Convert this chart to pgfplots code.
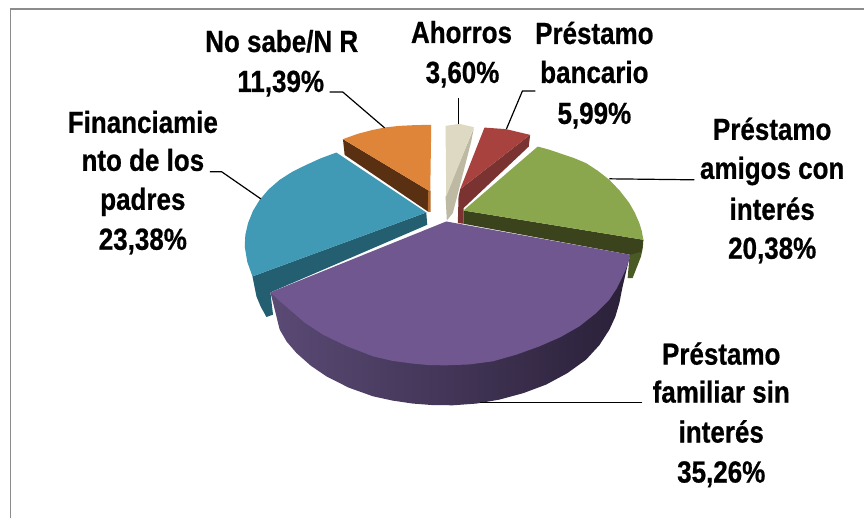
\documentclass[border=0pt]{standalone}
\usepackage{pgfplots}
\pgfplotsset{compat=1.18}
\usepackage{graphicx}
\usepackage{fontspec}
\setmainfont{Liberation Sans}
\newfontfamily\lblfont[BoldFeatures={FakeBold=0.7}]{Liberation Sans}
\definecolor{cpur}{HTML}{70578F}
\definecolor{cpurL}{HTML}{5A4A75}
\definecolor{cpurM}{HTML}{3F3052}
\definecolor{cpurR}{HTML}{2A2038}
\definecolor{cgre}{HTML}{8AA74E}
\definecolor{cgreD}{HTML}{3A431C}
\definecolor{cgreS}{HTML}{4A5A25}
\definecolor{cred}{HTML}{A8423F}
\definecolor{credD}{HTML}{7B3331}
\definecolor{cbei}{HTML}{DDD9C3}
\definecolor{cbeiD}{HTML}{BDB9A3}
\definecolor{cora}{HTML}{DF853A}
\definecolor{coraD}{HTML}{5A3012}
\definecolor{ctea}{HTML}{4099B5}
\definecolor{cteaD}{HTML}{235F70}
\definecolor{cfr}{HTML}{8C8C8C}
\newcommand{\lbl}[3]{\node[anchor=base,font=\fontsize{25}{25}\lblfont\bfseries,text=black,inner sep=0pt] at (axis cs:#1,#2) {\scalebox{1.04}[1.22]{#3}};}
\begin{document}
\begin{tikzpicture}
\begin{axis}[scale only axis,width=865pt,height=519pt,xmin=0,xmax=865,ymin=0,ymax=519,y dir=reverse,hide axis,clip=false]
\addplot[draw=none,fill=white] coordinates {(0,0)(865,0)(865,519)(0,519)} -- cycle;
% frame
\addplot[cfr,line width=1.8pt] coordinates {(10.5,519)(10.5,9)(865,9)};
% beige
\addplot[draw=none,fill=cbeiD] coordinates {(474.3,128.3)(471.7,141.7)(453.3,213.3)(447.3,220.7)(446,196.7)} -- cycle;
\addplot[draw=none,fill=cbei] coordinates {(446,126)(460,124)(474.3,127.3)(446.7,196.7)} -- cycle;
% red
\addplot[draw=none,fill=credD] coordinates {(460.7,189.3)(530.7,135)(529.3,146.7)(464,208.3)(464,224)(458.3,223.3)(459,197)} -- cycle;
\addplot[draw=none,fill=cred] coordinates {(460.7,189.3)(485,127.7)(506.7,129.3)(530.7,135)} -- cycle;
% orange
\addplot[draw=none,fill=coraD] coordinates {(343.3,139.3)(430.7,191.7)(428.3,211.7)(345,155)} -- cycle;
\addplot[draw=none,fill=cora!70!coraD] coordinates {(431,191)(431,212)(428.3,212)(428.6,191.7)} -- cycle;
\addplot[draw=none,fill=cora] coordinates {(343.3,139.3)(358,134)(373.3,130)(386,127.5)(400,126)(416,125.2)(431.7,125)(430.7,191.7)} -- cycle;
% green
\addplot[draw=none,fill=cgreS] coordinates {(644,240)(643.5,248)(641.7,256.7)(633.3,278.3)(628.3,278.3)(630.7,250)} -- cycle;
\addplot[draw=none,fill=cgreD] coordinates {(464,210.7)(644,240)(642,252)(630.7,255)(464,224)} -- cycle;
\addplot[draw=none,fill=cgre] coordinates {(464,210.7)(538.3,146.7)(549,149.6)(560,153.3)(574,158)(586.7,163.3)(598.5,171)(610,180)(620.5,191)(630,203.3)(635.5,213)(640,223.3)(642.5,231.5)(644,240)} -- cycle;
% teal
\addplot[draw=none,fill=cteaD] coordinates {(426.7,212.7)(252.7,276.7)(256.7,296.7)(261,307)(266.7,317.3)(273.3,315)(270.7,292.7)(427.7,225)} -- cycle;
\addplot[draw=none,fill=ctea] coordinates {(426.7,212.7)(336.7,152.7)(321,158.5)(306.7,165)(292.5,172)(280,180)(269,189.5)(260,200)(253.3,211)(248.3,223.3)(245.6,235)(245,246.7)(247.5,262)(252.7,276.7)} -- cycle;
% purple
\addplot[draw=none,left color=cpurL,middle color=cpurM,right color=cpurR] coordinates {(270.7,292.7)(276.7,316.7)(280,330)(287,342)(296.7,353.3)(311,366)(326.7,376.7)(349,388)(373.3,396.7)(393,401)(413.3,404)(433,405.5)(453.3,405.7)(477,404)(500,400)(524,393.5)(546.7,385)(568,373.5)(586.7,360)(600,345.5)(610,330)(616,317)(620,303.3)(623.3,286.7)(630.7,255)} -- cycle;
\addplot[draw=none,fill=cpur] coordinates {(446.7,221.7)(630.7,255)(628,266)(623.3,276.7)(617.5,288.5)(610,300)(596,314)(580,326.7)(561,337.5)(540,346.7)(517,355)(493.3,361.7)(470,364.8)(446.7,365.7)(430,365.5)(413.3,364)(393,361.3)(373.3,356.7)(347,346.5)(323.3,335)(305,323)(290,310)(279.5,301)(270.7,292.7)} -- cycle;
% leaders
\addplot[black,line width=1.2pt] coordinates {(330,92)(343,92)(385,128)};
\addplot[black,line width=1.2pt] coordinates {(210,172)(222,172)(261,199)};
\addplot[black,line width=1.2pt] coordinates {(459,98)(459,124)};
\addplot[black,line width=1.2pt] coordinates {(536,91)(523,91)(507,129)};
\addplot[black,line width=1.2pt] coordinates {(695,180)(610,179)};
\addplot[black,line width=1.2pt] coordinates {(643,403)(480,403)};
% labels
\lbl{282}{52}{No sabe/N R}
\lbl{281}{92}{11,39\%}
\lbl{143}{133}{Financiamie}
\lbl{143}{171}{nto de los}
\lbl{143}{210}{padres}
\lbl{143}{250}{23,38\%}
\lbl{462}{43}{Ahorros}
\lbl{463}{83}{3,60\%}
\lbl{595}{44}{Préstamo}
\lbl{595}{83}{bancario}
\lbl{595}{124}{5,99\%}
\lbl{773}{140}{Préstamo}
\lbl{773}{179}{amigos con}
\lbl{773}{220}{interés}
\lbl{773}{259}{20,38\%}
\lbl{722}{365}{Préstamo}
\lbl{722}{403}{familiar sin}
\lbl{722}{443}{interés}
\lbl{722}{483}{35,26\%}
\end{axis}
\end{tikzpicture}
\end{document}
